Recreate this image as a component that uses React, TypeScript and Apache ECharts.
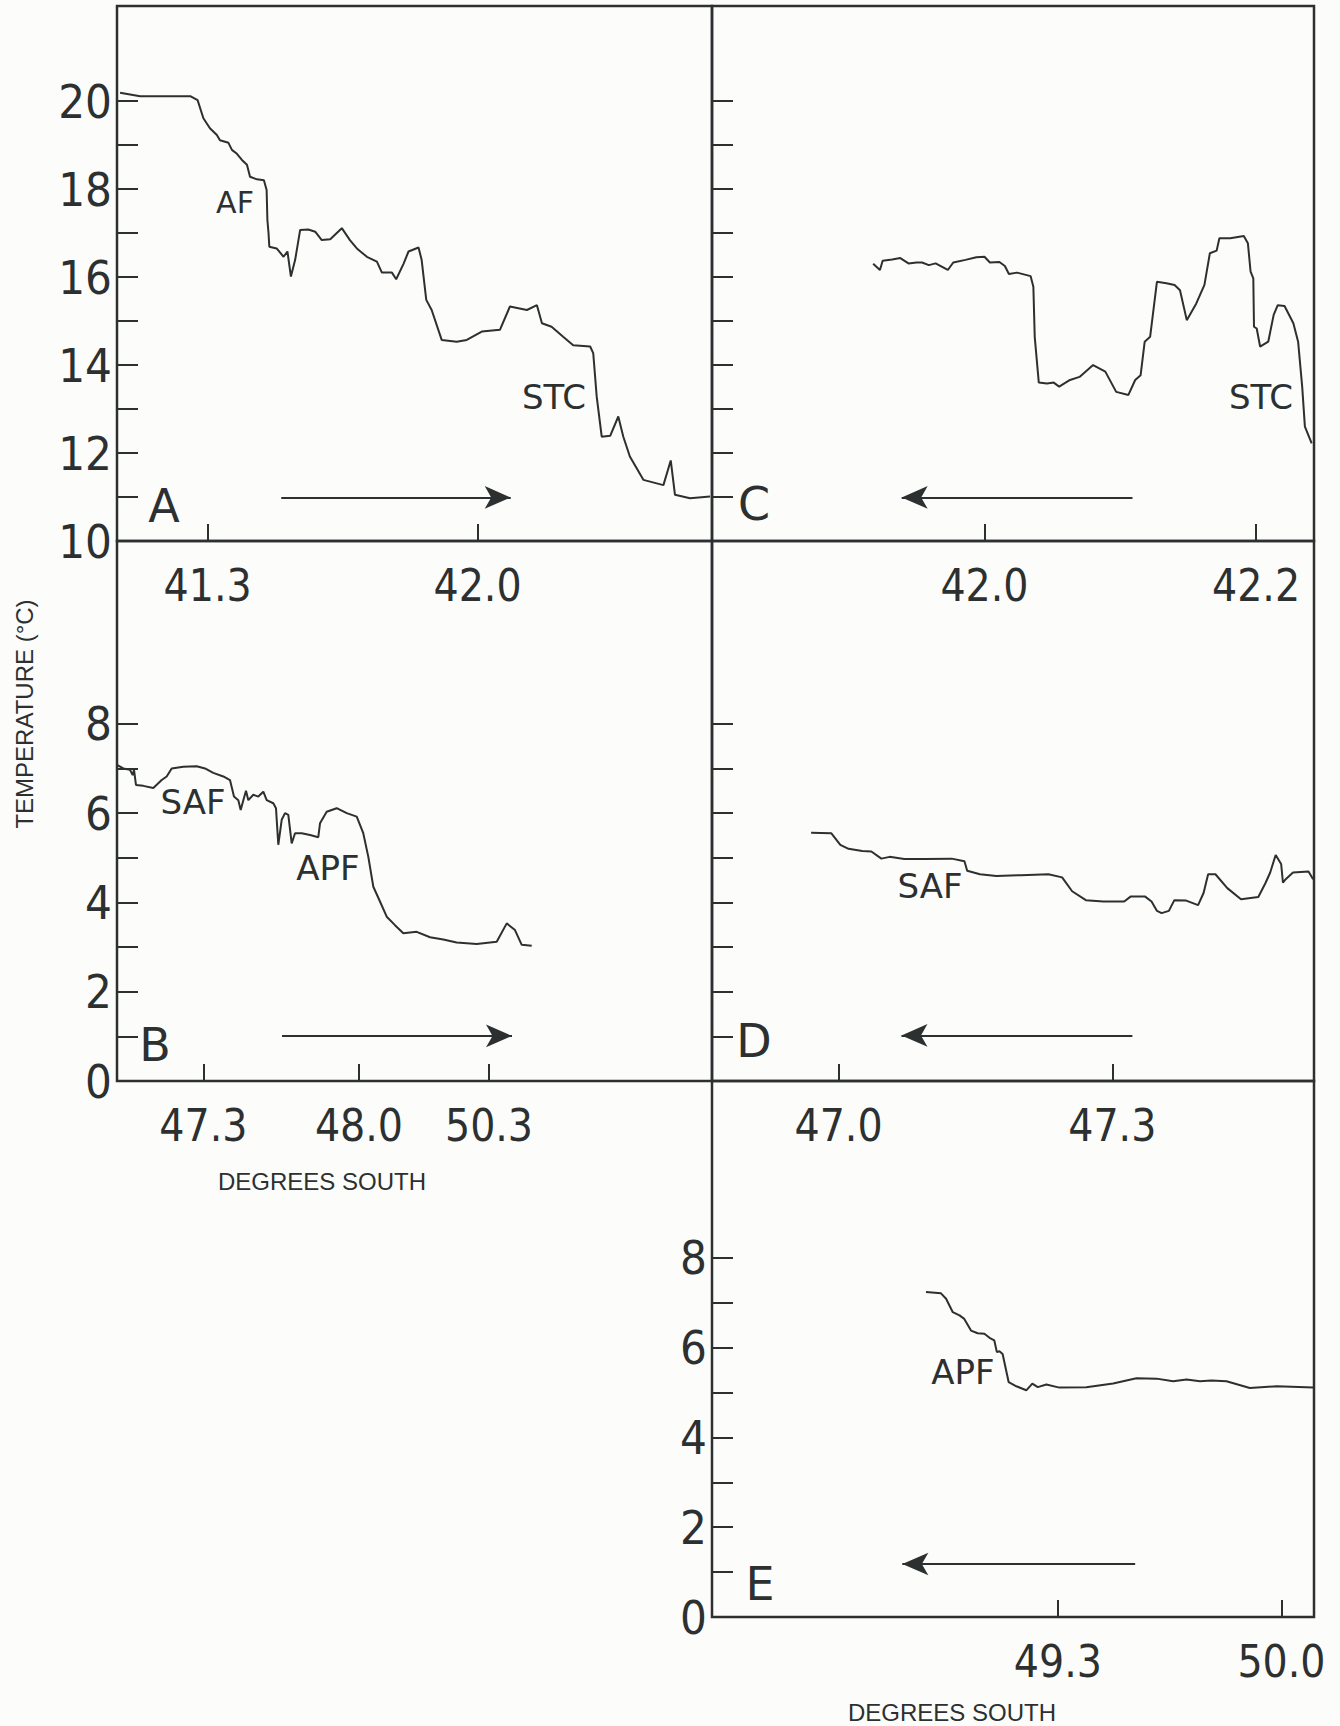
import React, { useEffect, useRef } from "react";
import * as echarts from "echarts";

// ---------- Panel A (41°S crossing, southward) ----------
const panelA: number[][] = [
  [41.073, 20.19], [41.125, 20.11], [41.255, 20.11], [41.274, 20.02], [41.289, 19.61], [41.306, 19.38],
  [41.324, 19.23], [41.332, 19.11], [41.354, 19.05], [41.363, 18.89], [41.376, 18.8], [41.389, 18.66],
  [41.402, 18.55], [41.41, 18.28], [41.428, 18.22], [41.446, 18.2], [41.453, 17.98], [41.455, 17.3],
  [41.458, 16.99], [41.46, 16.69], [41.479, 16.65], [41.497, 16.46], [41.507, 16.58], [41.516, 16.01],
  [41.527, 16.39], [41.54, 17.07], [41.561, 17.08], [41.579, 17.03], [41.596, 16.84], [41.618, 16.86],
  [41.648, 17.11], [41.669, 16.84], [41.687, 16.65], [41.713, 16.46], [41.739, 16.35], [41.752, 16.1],
  [41.778, 16.1], [41.789, 15.95], [41.808, 16.3], [41.821, 16.58], [41.847, 16.67], [41.855, 16.39],
  [41.867, 15.48], [41.881, 15.25], [41.907, 14.57], [41.946, 14.53], [41.972, 14.57], [42.011, 14.76],
  [42.058, 14.8], [42.084, 15.33], [42.128, 15.25], [42.154, 15.36], [42.167, 14.95], [42.192, 14.87],
  [42.222, 14.64], [42.248, 14.45], [42.292, 14.42], [42.3, 14.27], [42.309, 13.28], [42.322, 12.37],
  [42.344, 12.39], [42.365, 12.83], [42.378, 12.37], [42.395, 11.92], [42.43, 11.39], [42.482, 11.27],
  [42.501, 11.83], [42.512, 11.05], [42.551, 10.97], [42.603, 11.01],
];

// ---------- Panel C (42°S crossing, northward) ----------
const panelC: number[][] = [
  [41.918, 16.3], [41.923, 16.16], [41.925, 16.37], [41.932, 16.4], [41.938, 16.43], [41.944, 16.31],
  [41.95, 16.33], [41.954, 16.33], [41.959, 16.27], [41.964, 16.31], [41.973, 16.16], [41.977, 16.33],
  [41.986, 16.39], [41.994, 16.45], [42.0, 16.46], [42.004, 16.33], [42.011, 16.34], [42.015, 16.25],
  [42.018, 16.07], [42.024, 16.1], [42.034, 16.02], [42.036, 15.78], [42.037, 14.64], [42.04, 13.6],
  [42.046, 13.58], [42.051, 13.6], [42.055, 13.51], [42.063, 13.66], [42.07, 13.73], [42.08, 14.0],
  [42.089, 13.85], [42.097, 13.39], [42.106, 13.32], [42.111, 13.66], [42.115, 13.77], [42.118, 14.53],
  [42.122, 14.64], [42.127, 15.89], [42.134, 15.86], [42.14, 15.82], [42.144, 15.7], [42.149, 15.02],
  [42.156, 15.4], [42.162, 15.82], [42.166, 16.54], [42.171, 16.6], [42.173, 16.88], [42.181, 16.88],
  [42.191, 16.93], [42.194, 16.77], [42.196, 16.12], [42.198, 15.97], [42.1985, 14.87], [42.2005, 14.83],
  [42.203, 14.42], [42.209, 14.53], [42.213, 15.14], [42.216, 15.36], [42.221, 15.34], [42.2275, 14.95],
  [42.231, 14.53], [42.234, 13.51], [42.236, 12.6], [42.241, 12.22],
];

// ---------- Panel B (along-track position, % of panel; non-linear latitude labels) ----------
const panelB: number[][] = [
  [0, 7.08], [1.06, 7.0], [2.18, 6.97], [2.64, 6.85], [2.86, 6.97], [3.19, 6.63], [4.42, 6.61],
  [6.1, 6.56], [7.51, 6.74], [8.35, 6.82], [9.19, 7.0], [11.14, 7.04], [13.39, 7.05], [14.79, 7.0],
  [16.18, 6.9], [17.87, 6.82], [18.99, 6.74], [19.66, 6.37], [20.39, 6.29], [20.79, 6.07], [21.23, 6.29],
  [21.68, 6.5], [22.07, 6.29], [22.91, 6.41], [23.75, 6.37], [24.59, 6.48], [25.16, 6.29], [26.27, 6.22],
  [26.72, 6.11], [27.11, 5.29], [27.68, 5.85], [28.24, 6.0], [28.79, 5.96], [29.36, 5.32], [29.92, 5.55],
  [31.04, 5.55], [32.44, 5.51], [33.83, 5.46], [34.12, 5.77], [35.24, 6.03], [36.92, 6.11], [38.61, 6.0],
  [40.29, 5.92], [41.39, 5.55], [42.24, 5.02], [43.08, 4.35], [44.2, 4.02], [45.33, 3.68], [46.72, 3.49],
  [48.12, 3.31], [50.37, 3.34], [52.61, 3.22], [54.84, 3.17], [57.09, 3.1], [60.45, 3.07], [63.82, 3.12],
  [65.5, 3.53], [66.89, 3.38], [68.02, 3.05], [69.7, 3.03],
];
const bTickPos = [14.52, 40.67, 62.52];
const bTickLabels = ["47.3", "48.0", "50.3"];

// ---------- Panel D (47°S crossing, northward) ----------
const panelD: number[][] = [
  [46.97, 5.56], [46.992, 5.55], [47.002, 5.29], [47.011, 5.2], [47.026, 5.15], [47.036, 5.14],
  [47.047, 4.98], [47.056, 5.02], [47.072, 4.97], [47.094, 4.97], [47.124, 4.98], [47.138, 4.92],
  [47.141, 4.71], [47.155, 4.63], [47.173, 4.59], [47.2, 4.61], [47.23, 4.63], [47.245, 4.56],
  [47.256, 4.25], [47.271, 4.05], [47.29, 4.02], [47.313, 4.02], [47.32, 4.13], [47.336, 4.13],
  [47.343, 4.02], [47.349, 3.81], [47.354, 3.76], [47.362, 3.81], [47.368, 4.05], [47.381, 4.04],
  [47.394, 3.94], [47.4, 4.21], [47.405, 4.63], [47.413, 4.63], [47.426, 4.32], [47.441, 4.07],
  [47.46, 4.12], [47.468, 4.44], [47.473, 4.67], [47.479, 5.06], [47.485, 4.86], [47.487, 4.44],
  [47.49, 4.52], [47.498, 4.67], [47.515, 4.69], [47.52, 4.52],
];

// ---------- Panel E (49–50°S crossing, northward) ----------
const panelE: number[][] = [
  [48.887, 7.24], [48.934, 7.21], [48.95, 7.09], [48.971, 6.79], [48.992, 6.72], [49.007, 6.64],
  [49.028, 6.38], [49.049, 6.32], [49.07, 6.31], [49.086, 6.22], [49.101, 6.16], [49.109, 5.9],
  [49.117, 5.92], [49.127, 5.86], [49.146, 5.23], [49.17, 5.14], [49.201, 5.05], [49.22, 5.2],
  [49.237, 5.12], [49.264, 5.18], [49.305, 5.11], [49.389, 5.12], [49.473, 5.2], [49.546, 5.32],
  [49.609, 5.31], [49.661, 5.25], [49.703, 5.29], [49.745, 5.25], [49.781, 5.27], [49.828, 5.25],
  [49.901, 5.1], [49.985, 5.14], [50.1, 5.11],
];

// ---------- Axis ticks / labels ----------
const aXTicks = [41.3, 42.0];
const cXTicks = [42.0, 42.2];
const dXTicks = [47.0, 47.3];
const eXTicks = [49.3, 50.0];
const acYTicks = [10, 11, 12, 13, 14, 15, 16, 17, 18, 19, 20];
const aYLabels = [10, 12, 14, 16, 18, 20];
const bdeYTicks = [0, 1, 2, 3, 4, 5, 6, 7, 8];
const bdeYLabels = [0, 2, 4, 6, 8];

// ---------- Direction arrows (data coordinates: [from], [to]) ----------
const arrowA = [[41.491, 10.99], [42.086, 10.99]];
const arrowB = [[27.73, 1.01], [66.39, 1.01]];
const arrowC = [[42.109, 10.99], [41.939, 10.99]];
const arrowD = [[47.322, 1.02], [47.069, 1.02]];
const arrowE = [[49.542, 1.18], [48.813, 1.18]];

const INK = "#2c3030";
const FONT = "'DejaVu Sans', sans-serif";
const FONT_COND = "'DejaVu Sans Condensed', 'DejaVu Sans', sans-serif";
const FONT_SANS = "'Liberation Sans', Arial, sans-serif";

function makeX(gridIndex: number, min: number, max: number, ticks: number[], fmt: (v: number) => string) {
  return {
    type: "value",
    gridIndex,
    min,
    max,
    axisLine: { show: false },
    splitLine: { show: false },
    axisTick: { show: true, inside: true, length: 17, customValues: ticks, lineStyle: { color: INK, width: 2 } },
    axisLabel: {
      show: true,
      customValues: ticks,
      formatter: fmt,
      margin: 22,
      fontSize: 44,
      fontFamily: FONT_COND,
      color: INK,
    },
  };
}

function makeY(gridIndex: number, min: number, max: number, ticks: number[], labels: number[]) {
  return {
    type: "value",
    gridIndex,
    min,
    max,
    axisLine: { show: false },
    splitLine: { show: false },
    axisTick: { show: true, inside: true, length: 21, customValues: ticks, lineStyle: { color: INK, width: 2 } },
    axisLabel: {
      show: labels.length > 0,
      customValues: labels.length > 0 ? labels : undefined,
      margin: 5,
      fontSize: 47,
      fontFamily: FONT_COND,
      color: INK,
    },
  };
}

function arrowLine(a: number[][]) {
  return {
    silent: true,
    symbol: ["none", "arrow"],
    symbolSize: [17, 26],
    label: { show: false },
    emphasis: { disabled: true },
    lineStyle: { color: INK, width: 2, type: "solid" },
    itemStyle: { color: INK },
    data: [[{ coord: a[0] }, { coord: a[1] }]],
  };
}

function lineSeries(idx: number, data: number[][], arrow: number[][]) {
  return {
    type: "line",
    xAxisIndex: idx,
    yAxisIndex: idx,
    data,
    showSymbol: false,
    symbol: "none",
    silent: true,
    lineStyle: { color: INK, width: 2 },
    markLine: arrowLine(arrow),
  };
}

function txt(text: string, x: number, y: number, size: number, family = FONT, rotation = 0) {
  return {
    type: "text",
    x,
    y,
    rotation,
    silent: true,
    style: {
      text,
      fontSize: size,
      fontFamily: family,
      fill: INK,
      align: "center",
      verticalAlign: "middle",
      textAlign: "center",
      textVerticalAlign: "middle",
    },
  };
}

const fmt1 = (v: number) => v.toFixed(1);
const fmtB = (v: number) => {
  let best = 0;
  for (let i = 1; i < bTickPos.length; i++) {
    if (Math.abs(bTickPos[i] - v) < Math.abs(bTickPos[best] - v)) best = i;
  }
  return bTickLabels[best];
};

const gridStyle = { show: true, borderColor: INK, borderWidth: 2.5, backgroundColor: "transparent" };

const option = {
  animation: false,
  backgroundColor: "#fcfcfa",
  grid: [
    { left: 117, top: 6, width: 595, height: 535, ...gridStyle },
    { left: 712, top: 6, width: 602, height: 535, ...gridStyle },
    { left: 117, top: 541, width: 595, height: 540, ...gridStyle },
    { left: 712, top: 541, width: 602, height: 540, ...gridStyle },
    { left: 712, top: 1081, width: 602, height: 536, ...gridStyle },
  ],
  xAxis: [
    makeX(0, 41.065, 42.608, aXTicks, fmt1),
    makeX(1, 41.7993, 42.2427, cXTicks, fmt1),
    makeX(2, 0, 100, bTickPos, fmtB),
    makeX(3, 46.8614, 47.521, dXTicks, fmt1),
    makeX(4, 48.217, 50.102, eXTicks, fmt1),
  ],
  yAxis: [
    makeY(0, 10, 22.16, acYTicks, aYLabels),
    makeY(1, 10, 22.16, acYTicks, []),
    makeY(2, 0, 12.094, bdeYTicks, bdeYLabels),
    makeY(3, 0, 12.094, bdeYTicks, []),
    makeY(4, 0, 11.94, bdeYTicks, bdeYLabels),
  ],
  series: [
    lineSeries(0, panelA, arrowA),
    lineSeries(1, panelC, arrowC),
    lineSeries(2, panelB, arrowB),
    lineSeries(3, panelD, arrowD),
    lineSeries(4, panelE, arrowE),
  ],
  graphic: [
    txt("TEMPERATURE (°C)", 24, 714, 24, FONT_SANS, Math.PI / 2),
    txt("DEGREES SOUTH", 322, 1181, 24, FONT_SANS),
    txt("DEGREES SOUTH", 952, 1712, 24, FONT_SANS),
    txt("A", 164, 506, 46),
    txt("B", 155, 1045, 46),
    txt("C", 754, 504, 46),
    txt("D", 754, 1041, 46),
    txt("E", 760, 1584, 46),
    txt("AF", 235, 202, 30),
    txt("STC", 554, 397, 34),
    txt("STC", 1261, 397, 34),
    txt("SAF", 193, 802, 34),
    txt("APF", 328, 868, 34),
    txt("SAF", 930, 886, 34),
    txt("APF", 963, 1372, 34),
  ],
};

export default function App() {
  const ref = useRef<HTMLDivElement>(null);
  useEffect(() => {
    document.body.style.margin = "0";
    const chart = echarts.init(ref.current as HTMLDivElement, null, { renderer: "svg" });
    chart.setOption(option as any);
    return () => chart.dispose();
  }, []);
  return <div ref={ref} style={{ width: 1340, height: 1726 }} />;
}
